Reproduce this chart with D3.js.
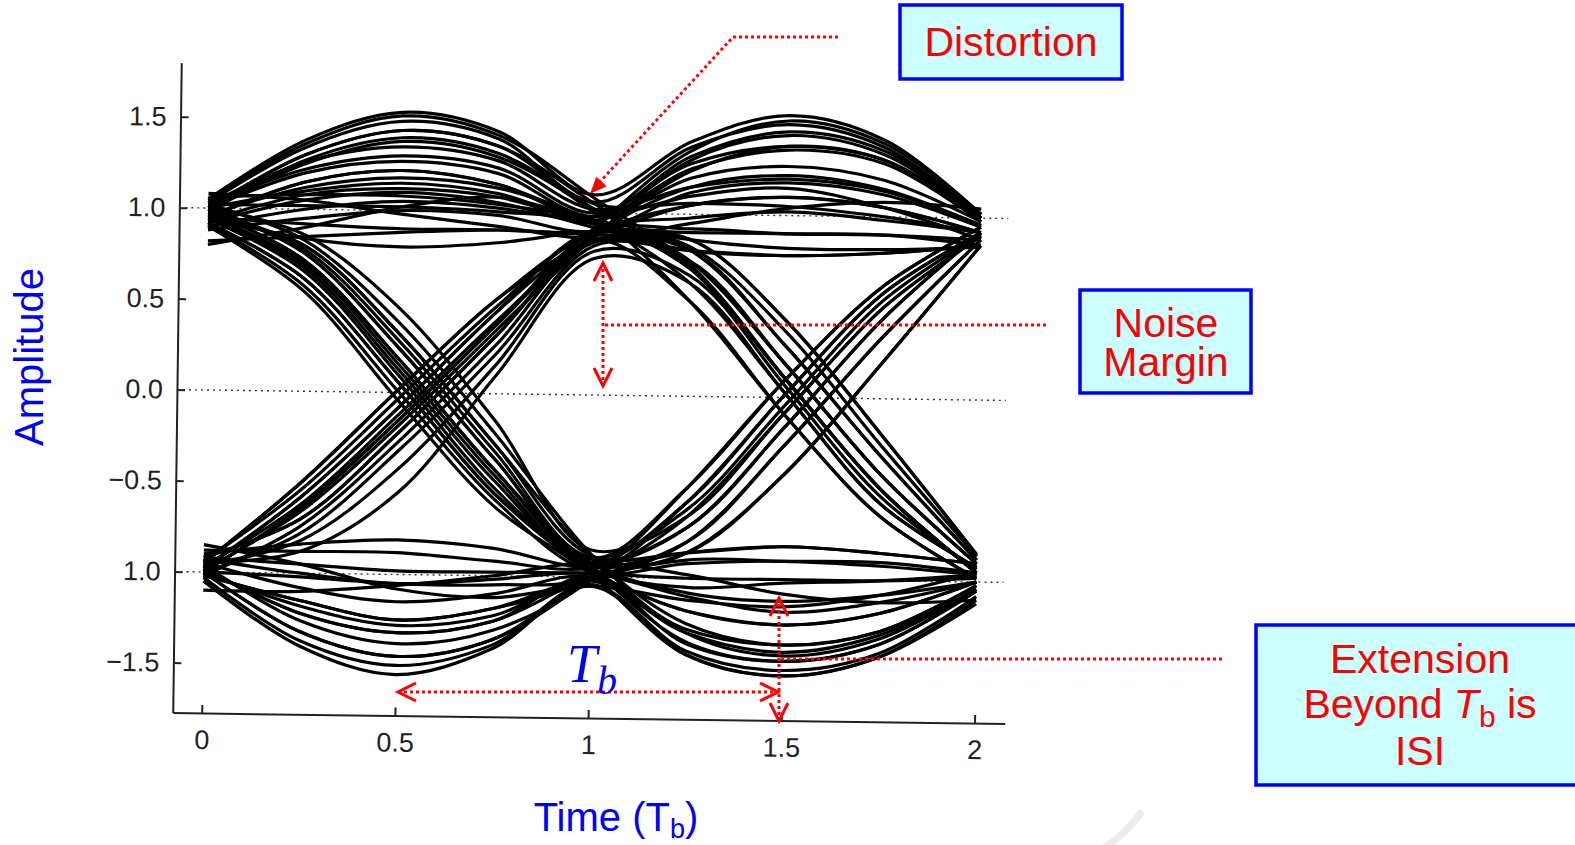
<!DOCTYPE html>
<html>
<head>
<meta charset="utf-8">
<script src="https://cdn.jsdelivr.net/npm/d3@7"></script>
<style>
  body { margin: 0; background: #fff; }
  svg { display: block; }
  .axis path, .axis line { stroke: #222; stroke-width: 2; }
  .axis text { font-family: "Liberation Sans", Arial, sans-serif; font-size: 27px; fill: #222; }
  .box-text { font-family: "Liberation Sans", Arial, sans-serif; font-size: 41px; fill: #ff0000; text-anchor: middle; }
  .title { font-family: "Liberation Sans", Arial, sans-serif; font-size: 40px; fill: #0000ff; text-anchor: middle; }
</style>
</head>
<body>
<script>
// sample instants of every trace, in bit periods
const sampleTimes = [0, 0.25, 0.5, 0.75, 1, 1.25, 1.5, 1.75, 2];

// traces that start high and stay high over the first bit
const upperTraces = [
  [1.05, 1.38, 1.54, 1.44, 1.10, 1.40, 1.55, 1.42, 1.02],
  [1.04, 1.36, 1.52, 1.42, 1.08, 0.72, 0.10, -0.50, -0.95],
  [1.00, 1.30, 1.44, 1.36, 1.05, 1.06, 1.05, 1.00, 0.92],
  [0.98, 1.27, 1.40, 1.32, 1.02, 0.74, 0.18, -0.42, -0.90],
  [1.02, 1.22, 1.30, 1.24, 1.00, 1.28, 1.38, 1.31, 1.00],
  [1.00, 1.20, 1.27, 1.21, 0.98, 1.25, 1.36, 1.29, 0.98],
  [0.95, 1.15, 1.22, 1.15, 0.95, 0.80, 0.28, -0.32, -0.88],
  [1.00, 1.10, 1.15, 1.10, 0.96, 1.20, 1.27, 1.20, 0.98],
  [0.92, 1.05, 1.10, 1.05, 0.92, 0.80, 0.78, 0.80, 0.85],
  [1.02, 1.02, 1.02, 1.00, 0.94, 0.62, 0.02, -0.58, -0.92],
  [0.88, 0.95, 1.00, 0.98, 0.90, 1.12, 1.18, 1.12, 0.95],
  [0.95, 0.92, 0.90, 0.90, 0.88, 0.86, 0.42, -0.20, -0.85],
  [0.82, 0.85, 0.88, 0.90, 0.90, 1.05, 1.10, 1.05, 0.92],
  [0.95, 0.84, 0.80, 0.83, 0.90, 0.90, 0.90, 0.90, 0.85],
  [1.00, 1.30, 1.44, 1.36, 1.05, 0.70, 0.10, -0.50, -0.95],
  [0.95, 1.15, 1.22, 1.15, 0.98, 1.32, 1.46, 1.36, 1.00],
  [0.98, 1.25, 1.38, 1.30, 1.00, 0.52, -0.10, -0.65, -0.98],
  [0.80, 0.90, 1.02, 1.08, 0.98, 1.10, 1.15, 1.05, 0.88],
  [1.08, 1.05, 0.98, 0.92, 0.86, 0.95, 1.04, 1.08, 1.05],
  [1.02, 1.26, 1.35, 1.28, 1.02, 1.15, 1.20, 1.14, 0.96],
  [0.96, 1.12, 1.18, 1.13, 0.96, 0.74, 0.18, -0.42, -0.90],
  [0.90, 1.00, 1.05, 1.02, 0.94, 0.86, 0.82, 0.82, 0.84],
  [1.06, 1.08, 1.08, 1.04, 0.95, 0.70, 0.10, -0.50, -0.95],
  [1.03, 1.34, 1.49, 1.40, 1.06, 1.37, 1.50, 1.38, 1.00],
  [0.93, 1.08, 1.12, 1.08, 0.94, 0.82, 0.36, -0.26, -0.86]
];

// traces that fall during the first bit
const fallingTraces = [
  [0.92, 0.62, 0.05, -0.55, -0.95, -1.35, -1.45, -1.35, -1.05],
  [0.95, 0.68, 0.12, -0.48, -0.92, -0.58, 0.02, 0.58, 0.92],
  [0.98, 0.72, 0.18, -0.42, -0.92, -1.08, -1.12, -1.08, -1.00],
  [1.00, 0.76, 0.24, -0.36, -0.90, -0.72, -0.16, 0.44, 0.92],
  [0.95, 0.80, 0.32, -0.28, -0.88, -0.86, -0.82, -0.85, -0.90],
  [1.00, 0.86, 0.46, -0.15, -0.85, -0.66, -0.08, 0.50, 0.90],
  [0.90, 0.55, -0.05, -0.62, -0.98, -1.42, -1.53, -1.42, -1.10],
  [0.98, 0.72, 0.18, -0.42, -0.92, -0.86, -0.42, 0.20, 0.85],
  [0.92, 0.62, 0.05, -0.55, -0.96, -1.18, -1.25, -1.18, -1.00],
  [1.00, 0.76, 0.24, -0.36, -0.90, -0.50, 0.10, 0.62, 0.95],
  [0.95, 0.80, 0.32, -0.28, -0.88, -1.25, -1.36, -1.28, -1.02],
  [0.96, 0.70, 0.15, -0.45, -0.93, -0.80, -0.26, 0.34, 0.88],
  [0.94, 0.66, 0.09, -0.52, -0.95, -1.05, -1.02, -1.00, -0.96],
  [1.02, 0.83, 0.38, -0.22, -0.87, -1.30, -1.42, -1.32, -1.04],
  [0.91, 0.58, 0.00, -0.58, -0.97, -0.92, -0.90, -0.92, -0.96],
  [0.99, 0.78, 0.28, -0.32, -0.89, -0.62, -0.04, 0.54, 0.91]
];

// traces that rise during the first bit
const risingTraces = [
  [-0.95, -0.50, 0.02, 0.52, 0.88, 1.24, 1.38, 1.31, 1.00],
  [-0.98, -0.58, -0.08, 0.45, 0.90, 0.70, 0.10, -0.50, -0.95],
  [-1.00, -0.64, -0.15, 0.38, 0.88, 1.05, 1.10, 1.05, 0.92],
  [-0.92, -0.70, -0.22, 0.32, 0.85, 0.80, 0.28, -0.32, -0.88],
  [-1.00, -0.78, -0.32, 0.22, 0.82, 0.80, 0.78, 0.80, 0.85],
  [-0.95, -0.88, -0.55, 0.10, 0.75, 0.62, 0.02, -0.58, -0.92],
  [-0.98, -0.58, -0.08, 0.45, 0.92, 1.35, 1.52, 1.40, 1.02],
  [-0.95, -0.50, 0.02, 0.52, 0.88, 0.86, 0.42, -0.20, -0.85],
  [-1.00, -0.64, -0.15, 0.38, 0.90, 0.98, 1.02, 0.98, 0.92],
  [-0.92, -0.70, -0.22, 0.32, 0.85, 0.52, -0.10, -0.65, -0.98],
  [-0.97, -0.62, -0.12, 0.40, 0.88, 1.15, 1.22, 1.15, 0.96],
  [-1.02, -0.74, -0.27, 0.27, 0.84, 0.74, 0.18, -0.42, -0.90],
  [-0.94, -0.54, -0.03, 0.48, 0.90, 0.92, 0.90, 0.90, 0.88],
  [-0.99, -0.66, -0.18, 0.35, 0.87, 1.30, 1.44, 1.34, 1.00],
  [-0.96, -0.82, -0.42, 0.16, 0.79, 0.66, 0.06, -0.54, -0.93]
];

// traces that start low and stay low over the first bit
const lowerTraces = [
  [-1.05, -1.40, -1.55, -1.40, -1.05, -1.42, -1.53, -1.42, -1.12],
  [-1.00, -1.32, -1.45, -1.35, -1.02, -0.66, -0.08, 0.50, 0.90],
  [-0.98, -1.22, -1.32, -1.25, -1.00, -1.36, -1.45, -1.35, -1.05],
  [-1.02, -1.15, -1.25, -1.18, -1.02, -0.80, -0.26, 0.34, 0.88],
  [-0.95, -1.08, -1.15, -1.10, -1.00, -1.28, -1.36, -1.28, -1.02],
  [-1.00, -1.02, -1.05, -1.05, -1.00, -0.58, 0.02, 0.58, 0.92],
  [-0.92, -0.95, -0.98, -0.98, -0.98, -1.00, -1.00, -1.00, -0.98],
  [-0.88, -0.88, -0.88, -0.92, -0.95, -0.72, -0.16, 0.44, 0.92],
  [-0.90, -0.84, -0.81, -0.85, -0.95, -0.86, -0.82, -0.85, -0.90],
  [-1.00, -1.32, -1.45, -1.35, -1.02, -0.90, -0.90, -0.90, -0.95],
  [-1.02, -1.15, -1.25, -1.18, -1.02, -1.18, -1.25, -1.18, -1.00],
  [-0.98, -1.22, -1.32, -1.25, -1.00, -0.86, -0.42, 0.20, 0.85],
  [-1.10, -1.10, -1.06, -1.00, -0.92, -0.98, -1.08, -1.12, -1.10],
  [-0.85, -0.95, -1.08, -1.12, -1.05, -1.12, -1.15, -1.08, -0.95],
  [-1.03, -1.37, -1.50, -1.38, -1.04, -1.40, -1.50, -1.40, -1.08],
  [-0.96, -1.26, -1.38, -1.30, -1.02, -0.50, 0.10, 0.62, 0.95],
  [-1.00, -1.18, -1.28, -1.22, -1.02, -1.30, -1.40, -1.30, -1.04],
  [-0.93, -1.00, -1.05, -1.02, -0.98, -1.10, -1.18, -1.12, -1.00]
];

const xTickValues = [0, 0.5, 1, 1.5, 2];
const xTickLabels = ["0", "0.5", "1", "1.5", "2"];
const yTickValues = [1.5, 1, 0.5, 0, -0.5, -1, -1.5];
const yTickLabels = ["1.5", "1.0", "0.5", "0.0", "\u22120.5", "1.0", "\u22121.5"];
const refLevels = [1, 0, -1];

const allTraces = upperTraces.concat(fallingTraces, risingTraces, lowerTraces);

const red = "#ff0000";
const blue = "#0000ff";

let svg = d3.select('body').append('svg')
    .attr('width', 1575)
    .attr('height', 845);

let x = d3.scaleLinear().domain([-0.075, 2.078]).range([177, 1009]);
let y = d3.scaleLinear().domain([-1.775, 1.797]).range([718, 68]);

// faint slide decoration, bottom right
svg.append('path')
    .attr('d', 'M1142,811Q1128,832 1104,848')
    .attr('fill', 'none')
    .attr('stroke', '#ececec')
    .attr('stroke-width', 7);

// the scanned plot sits slightly tilted on the slide
let plot = svg.append('g').attr('transform', 'rotate(0.75, 590, 390)');

// dotted reference levels
plot.selectAll('.level')
    .data(refLevels)
  .enter().append('line')
    .attr('x1', x(-0.075)).attr('x2', x(2.07))
    .attr('y1', d => y(d)).attr('y2', d => y(d))
    .attr('stroke', '#333')
    .attr('stroke-width', 1.4)
    .attr('stroke-dasharray', '2,4');

let line = d3.line()
  .x((d, i) => x(sampleTimes[i]))
  .y(d => y(d))
  .curve(d3.curveCatmullRom.alpha(0.5));

plot.selectAll('.trace')
    .data(allTraces)
  .enter().append('path')
    .attr('class', 'trace')
    .attr('d', line)
    .attr('fill', 'none')
    .attr('stroke', '#000')
    .attr('stroke-width', 3.2);

let xAxis = d3.axisBottom(x)
  .tickValues(xTickValues)
  .tickFormat((d, i) => xTickLabels[i])
  .tickSizeInner(-8).tickSizeOuter(0).tickPadding(17);

let yAxis = d3.axisLeft(y)
  .tickValues(yTickValues)
  .tickFormat((d, i) => yTickLabels[i])
  .tickSizeInner(-8).tickSizeOuter(0).tickPadding(14);

plot.append('g')
    .attr('class', 'axis')
    .attr('transform', 'translate(0,' + y(-1.775) + ')')
    .call(xAxis);

plot.append('g')
    .attr('class', 'axis')
    .attr('transform', 'translate(' + x(-0.075) + ',0)')
    .call(yAxis);

// axis titles
svg.append('text')
    .attr('class', 'title')
    .attr('transform', 'translate(43,357) rotate(-90)')
    .text('Amplitude');

let xt = svg.append('text').attr('class', 'title').attr('x', 616).attr('y', 831);
xt.append('tspan').text('Time (T');
xt.append('tspan').attr('dy', 7).style('font-size', '27px').text('b');
xt.append('tspan').attr('dy', -7).text(')');

// annotation helpers
let notes = svg.append('g');

function dotted(d) {
  notes.append('path')
      .attr('d', d)
      .attr('fill', 'none')
      .attr('stroke', red)
      .attr('stroke-width', 3)
      .attr('stroke-dasharray', '3,3');
}

function chevron(tx, ty, dx, dy) {
  // open arrow head at (tx,ty) pointing along (dx,dy)
  let len = Math.hypot(dx, dy), ux = dx / len, uy = dy / len;
  let bx = tx - ux * 18, by = ty - uy * 18;
  notes.append('path')
      .attr('d', 'M' + (bx - uy * 9) + ',' + (by + ux * 9) + 'L' + tx + ',' + ty +
                 'L' + (bx + uy * 9) + ',' + (by - ux * 9))
      .attr('fill', 'none')
      .attr('stroke', red)
      .attr('stroke-width', 3);
}

function doubleArrow(x1, y1, x2, y2) {
  dotted('M' + x1 + ',' + y1 + 'L' + x2 + ',' + y2);
  chevron(x1, y1, x1 - x2, y1 - y2);
  chevron(x2, y2, x2 - x1, y2 - y1);
}

function box(bx, by, bw, bh) {
  notes.append('rect')
      .attr('x', bx).attr('y', by)
      .attr('width', bw).attr('height', bh)
      .attr('fill', '#ccffff')
      .attr('stroke', blue)
      .attr('stroke-width', 3.5);
}

// Distortion
box(900, 5, 222, 74);
notes.append('text').attr('class', 'box-text').attr('x', 1011).attr('y', 56).text('Distortion');
dotted('M838,37H733L598,184');
(function () {
  let tx = 590, ty = 194, dx = 590 - 733, dy = 194 - 37;
  let len = Math.hypot(dx, dy), ux = dx / len, uy = dy / len;
  let bx = tx - ux * 17, by = ty - uy * 17;
  notes.append('path')
      .attr('d', 'M' + tx + ',' + ty + 'L' + (bx - uy * 7) + ',' + (by + ux * 7) +
                 'L' + (bx + uy * 7) + ',' + (by - ux * 7) + 'Z')
      .attr('fill', red);
})();

// Noise margin
box(1080, 290, 171, 103);
let nm = notes.append('text').attr('class', 'box-text');
nm.append('tspan').attr('x', 1166).attr('y', 337).text('Noise');
nm.append('tspan').attr('x', 1166).attr('y', 376).text('Margin');
dotted('M605,325H1048');
doubleArrow(603, 263, 603, 386);

// ISI
box(1256, 625, 340, 160);
notes.append('text').attr('class', 'box-text').attr('x', 1420).attr('y', 673).text('Extension');
let isi = notes.append('text').attr('class', 'box-text').attr('x', 1420).attr('y', 718);
isi.append('tspan').text('Beyond ');
isi.append('tspan').style('font-style', 'italic').text('T');
isi.append('tspan').attr('dy', 9).style('font-size', '30px').text('b');
isi.append('tspan').attr('dy', -9).text(' is');
notes.append('text').attr('class', 'box-text').attr('x', 1420).attr('y', 765).text('ISI');
dotted('M781,659H1224');
doubleArrow(779, 598, 779, 721);

// bit period
doubleArrow(398, 692, 778, 692);
let tb = notes.append('text')
    .attr('x', 567).attr('y', 682)
    .style('font-family', '"Liberation Serif", "Times New Roman", serif')
    .style('font-style', 'italic')
    .attr('fill', blue);
tb.append('tspan').style('font-size', '54px').text('T');
tb.append('tspan').attr('dy', 12).style('font-size', '40px').text('b');
</script>
</body>
</html>
